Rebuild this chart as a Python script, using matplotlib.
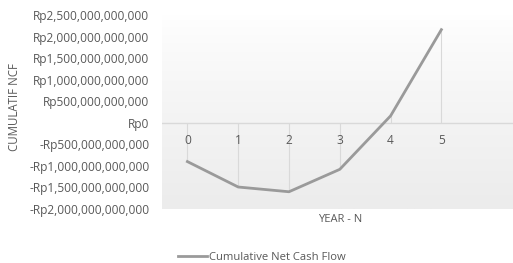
import numpy as np
import matplotlib.pyplot as plt
from matplotlib.colors import LinearSegmentedColormap

years = [0, 1, 2, 3, 4, 5]
year_labels = ["0", "1", "2", "3", "4", "5"]
cum_ncf = [-0.90e12, -1.49e12, -1.60e12, -1.08e12, 0.16e12, 2.16e12]
y_ticks = [-2.0e12, -1.5e12, -1.0e12, -0.5e12, 0, 0.5e12, 1.0e12, 1.5e12, 2.0e12, 2.5e12]

txt = "#595959"
plt.rcParams['font.family'] = ['Open Sans', 'DejaVu Sans']

def rupiah(v):
    if v == 0:
        return "Rp0"
    s = f"Rp{abs(v):,.0f}"
    return "-" + s if v < 0 else s

fig = plt.figure(figsize=(5.13, 2.63), dpi=100)
ax = fig.add_axes([162 / 513, 1 - 209 / 263, 351 / 513, 194 / 263])

xmin, xmax = -0.5, 6.41
ymin, ymax = -2.0e12, 2.5e12

# gradient background of plot area
grad = np.linspace(0, 1, 256).reshape(-1, 1) ** 0.8
ax.imshow(grad, extent=[xmin, xmax, ymin, ymax], aspect='auto', origin='upper',
          cmap=LinearSegmentedColormap.from_list("g", ["#ffffff", "#ececec"]),
          vmin=0, vmax=1, zorder=0)

# drop lines to zero
ax.vlines(years, 0, cum_ncf, color="#d9d9d9", lw=0.8, zorder=1)
ax.axhline(0, color="#d9d9d9", lw=1.0, zorder=1)

line, = ax.plot(years, cum_ncf, color="#9a9a9a", lw=2, zorder=3,
                label="Cumulative Net Cash Flow")

ax.set_xlim(xmin, xmax)
ax.set_ylim(ymin, ymax)
ax.set_yticks(y_ticks)
ax.set_yticklabels([rupiah(v) for v in y_ticks], color=txt, fontsize=8.6)
ax.tick_params(axis='y', length=0, pad=9)
ax.set_xticks([])
for s in ax.spines.values():
    s.set_visible(False)

# category labels just below the zero line
for x, lab in zip(years, year_labels):
    ax.text(x, -0.42e12, lab, ha='center', va='center', color=txt, fontsize=8.6)

fig.text(340 / 513, 1 - 219 / 263, "YEAR - N", ha='center', va='center', color=txt, fontsize=8)
fig.text(15 / 513, 1 - 107 / 263, "CUMULATIF NCF", ha='center', va='center', rotation=90,
         color=txt, fontsize=8.3)

fig.legend(handles=[line], loc='center', bbox_to_anchor=(262 / 513, 1 - 257 / 263),
           frameon=False, fontsize=8.1, labelcolor=txt, handlelength=2.6, handletextpad=0.2)

fig.savefig("out.png", dpi=100)
